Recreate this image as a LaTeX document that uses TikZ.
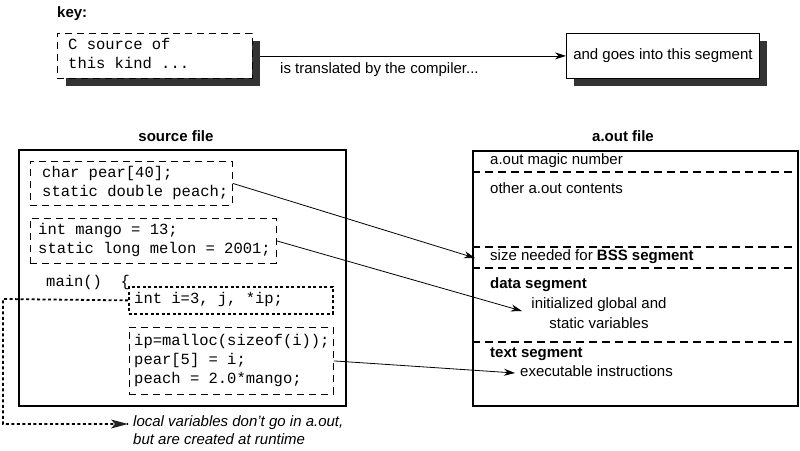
\documentclass[tikz,border=0pt]{standalone}
\usepackage{fontspec}
\setmainfont{Liberation Sans}
\setmonofont{Liberation Mono}
\usetikzlibrary{arrows.meta}
\definecolor{shade}{HTML}{333333}
\definecolor{tipc}{HTML}{222222}
\begin{document}
\begin{tikzpicture}[x=1pt,y=-1pt,
  code/.style={font=\ttfamily\fontsize{15.5}{19}\selectfont, inner sep=0, anchor=west, align=left},
  lbl/.style={font=\fontsize{15}{20}\selectfont, inner sep=0},
  ttl/.style={font=\bfseries\fontsize{15}{18}\selectfont, inner sep=0},
  dbox/.style={draw, dash pattern=on 7pt off 5pt, line width=0.8pt, inner sep=0, anchor=north west, fill=white},
  pbox/.style={draw, dash pattern=on 3pt off 2.5pt, line width=1.8pt, inner sep=0, anchor=north west},
  sbox/.style={draw, line width=0.8pt, fill=white, inner sep=0, anchor=north west},
  shadowbox/.style={fill=shade, inner sep=0, anchor=north west},
  frame/.style={draw, line width=1.6pt, inner sep=0, anchor=north west},
  sep/.style={dash pattern=on 8pt off 5pt, line width=1.4pt},
  arr/.style={line width=0.8pt, -{Stealth[length=11pt,width=7pt,inset=3.5pt]}},
  darr/.style={dash pattern=on 3pt off 2.5pt, line width=1.8pt},
]
\useasboundingbox (0,0) rectangle (800,450);

% key
\node[ttl, anchor=west] (keyt) at (57,14) {key:};
\node[shadowbox, minimum width=194pt, minimum height=45pt] (keysh) at (66,41) {};
\node[dbox, minimum width=195pt, minimum height=45pt] (key) at (57,33) {};
\node[code] (keytx) at (68,53) {C source of\\this kind ...};

\node[shadowbox, minimum width=193pt, minimum height=45pt] (segsh) at (574,41) {};
\node[sbox, minimum width=193pt, minimum height=45pt, font=\fontsize{15}{18}\selectfont] (seg) at (566,33) {and goes into this segment};
\draw[arr] (key.east -| keysh.east) -- (seg.west);
\node[lbl, anchor=west] (trans) at (280,70) {is translated by the compiler...};

% source file
\node[ttl] (srct) at (176,136) {source file};
\node[frame, minimum width=327pt, minimum height=256pt] (src) at (18,149) {};

\node[dbox, fill=none, minimum width=202pt, minimum height=44pt] (b1) at (30,161) {};
\node[code] (b1t) at (42,183) {char pear[40];\\static double peach;};

\node[dbox, fill=none, minimum width=246pt, minimum height=45pt] (b2) at (30,218) {};
\node[code] (b2t) at (38,240) {int mango = 13;\\static long melon = 2001;};

\node[code] (mainl) at (46,282) {main()\ \ \{};

\node[pbox, minimum width=204pt, minimum height=27pt] (b3) at (128,286) {};
\node[code] (b3t) at (134,299) {int i=3, j, *ip;};

\node[dbox, fill=none, minimum width=204pt, minimum height=67pt] (b4) at (129,327) {};
\node[code] (b4t) at (134,360) {ip=malloc(sizeof(i));\\pear[5] = i;\\peach = 2.0*mango;};

% local variables note
\node[lbl, font=\itshape\fontsize{15}{18}\selectfont, anchor=north west, align=left] (note) at (133,415) {local variables don{\char"0027}t go in a.out,\\but are created at runtime};
\coordinate (c1) at (3,299);
\coordinate (c2) at (3,424);
\coordinate (ntip) at (128,424);
\draw[darr] (b3.west) -- (c1) -- (c2) -- (ntip);
\fill[tipc] (ntip) -- ++(-17,-4.5) -- ++(4,4.5) -- ++(-4,4.5) -- cycle;

% a.out file
\node[ttl] (aoutt) at (623,136) {a.out file};
\node[frame, minimum width=325pt, minimum height=255pt] (aout) at (472,150) {};
\draw[sep] (aout.west |- 0,172) -- (aout.east |- 0,172);
\draw[sep] (aout.west |- 0,247) -- (aout.east |- 0,247);
\draw[sep] (aout.west |- 0,268) -- (aout.east |- 0,268);
\draw[sep] (aout.west |- 0,342) -- (aout.east |- 0,342);

\node[lbl, anchor=west] (magic) at (490,161) {a.out magic number};
\node[lbl, anchor=west] (other) at (490,188) {other a.out contents};
\node[lbl, anchor=west] (bss) at (490,257) {size needed for \textbf{BSS segment}};
\node[lbl, anchor=west] (datas) at (490,285) {\bfseries data segment};
\node[lbl, align=center] (init) at (599,313) {initialized global and\\static variables};
\node[lbl, anchor=west] (texts) at (490,354) {\bfseries text segment};
\node[lbl, anchor=west] (exec) at (520,371) {executable instructions};

\coordinate (bsstip) at (475,258);
\coordinate (datatip) at (522,311);
\coordinate (texttip) at (515,373);
\draw[arr] (b1.east) -- (bsstip);
\draw[arr] (b2.east) -- (datatip);
\draw[arr] (b4.east) -- (texttip);
\end{tikzpicture}
\end{document}
